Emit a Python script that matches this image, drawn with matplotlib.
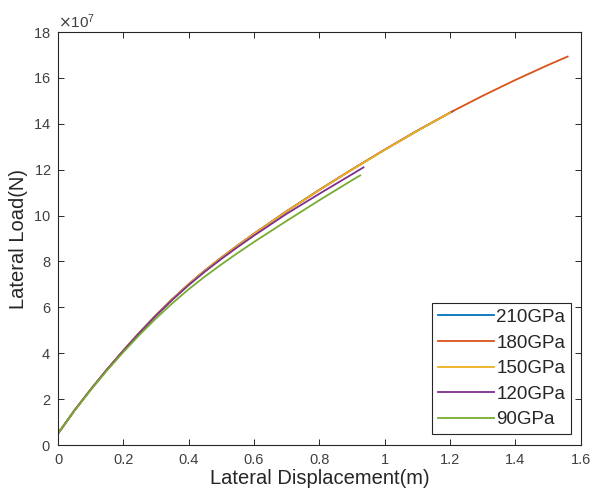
import matplotlib
matplotlib.use("Agg")
import matplotlib.pyplot as plt
from matplotlib.ticker import ScalarFormatter

plt.rcParams['font.family'] = ['Liberation Sans', 'DejaVu Sans']

labels = ['210GPa', '180GPa', '150GPa', '120GPa', '90GPa']
colors = ['#0072BD', '#D95319', '#EDB120', '#7E2F8E', '#77AC30']

# displacement (m) and load (x1e7 N)
x_210 = [0, 0.05, 0.1, 0.15, 0.2, 0.25, 0.3, 0.35, 0.4, 0.45, 0.5, 0.55, 0.6,
         0.7, 0.8, 0.9, 1.0, 1.1, 1.21]
y_210 = [0.5, 1.5, 2.42, 3.29, 4.12, 4.91, 5.66, 6.36, 7.01, 7.61, 8.17, 8.70, 9.21,
         10.19, 11.12, 12.01, 12.87, 13.70, 14.56]

x_180 = [0, 0.05, 0.1, 0.15, 0.2, 0.25, 0.3, 0.35, 0.4, 0.45, 0.5, 0.55, 0.6,
         0.7, 0.8, 0.9, 1.0, 1.1, 1.2, 1.3, 1.4, 1.5, 1.56]
y_180 = [0.5, 1.5, 2.42, 3.29, 4.12, 4.91, 5.66, 6.36, 7.01, 7.61, 8.17, 8.70, 9.21,
         10.19, 11.12, 12.01, 12.87, 13.70, 14.49, 15.22, 15.91, 16.56, 16.93]

x_150 = [0, 0.05, 0.1, 0.15, 0.2, 0.25, 0.3, 0.35, 0.4, 0.45, 0.5, 0.55, 0.6,
         0.7, 0.8, 0.9, 1.0, 1.1, 1.2]
y_150 = [0.5, 1.5, 2.42, 3.29, 4.12, 4.91, 5.66, 6.36, 7.0, 7.6, 8.16, 8.69, 9.2,
         10.18, 11.11, 12.0, 12.86, 13.69, 14.48]

x_120 = [0, 0.05, 0.1, 0.15, 0.2, 0.25, 0.3, 0.35, 0.4, 0.45, 0.5, 0.55, 0.6,
         0.7, 0.8, 0.9, 0.935]
y_120 = [0.5, 1.5, 2.42, 3.29, 4.11, 4.9, 5.64, 6.33, 6.97, 7.56, 8.11, 8.63, 9.13,
         10.08, 10.95, 11.8, 12.1]

x_90 = [0, 0.05, 0.1, 0.15, 0.2, 0.25, 0.3, 0.35, 0.4, 0.45, 0.5, 0.55, 0.6,
        0.7, 0.8, 0.9, 0.925]
y_90 = [0.5, 1.49, 2.4, 3.25, 4.05, 4.81, 5.52, 6.18, 6.79, 7.35, 7.87, 8.37, 8.85,
        9.77, 10.67, 11.54, 11.75]

xs = [x_210, x_180, x_150, x_120, x_90]
ys = [y_210, y_180, y_150, y_120, y_90]
scale = 1e7

fig = plt.figure(figsize=(5.95, 5.04), dpi=100)
ax = fig.add_axes([0.0975, 0.117, 0.8785, 0.8195])

for x, y, c, lab in zip(xs, ys, colors, labels):
    ax.plot(x, [v * scale for v in y], color=c, lw=1.3, label=lab)

ax.set_xlim(0, 1.6)
ax.set_ylim(0, 18e7)
ax.set_xticks([0, 0.2, 0.4, 0.6, 0.8, 1.0, 1.2, 1.4, 1.6])
ax.set_xticklabels(['0', '0.2', '0.4', '0.6', '0.8', '1', '1.2', '1.4', '1.6'])
ax.set_yticks([i * 2e7 for i in range(10)])
fmt = ScalarFormatter(useMathText=True)
fmt.set_powerlimits((7, 7))
ax.yaxis.set_major_formatter(fmt)

dark = '#262626'
tickc = '#404040'
ax.yaxis.get_offset_text().set_fontsize(11)
ax.yaxis.get_offset_text().set_color(tickc)
for s in ax.spines.values():
    s.set_color(dark)
    s.set_linewidth(0.8)
ax.tick_params(direction='in', length=4, width=0.7, colors=dark, labelsize=10.5,
               top=True, right=True, labelcolor=tickc)
ax.tick_params(axis='x', pad=6)
ax.tick_params(axis='y', pad=5)

ax.set_xlabel('Lateral Displacement(m)', fontsize=14.5, color=dark, labelpad=1)
ax.set_ylabel('Lateral Load(N)', fontsize=14.5, color=dark, labelpad=4)

leg = ax.legend(loc='lower right', bbox_to_anchor=(0.981, 0.027), borderaxespad=0,
                fontsize=13.5, fancybox=False, framealpha=1, edgecolor=dark,
                handlelength=3.0, handletextpad=0.1, labelspacing=0.45,
                borderpad=0.3)
leg.get_frame().set_linewidth(0.8)
for t in leg.get_texts():
    t.set_color(dark)

fig.savefig('out.png', dpi=100)
